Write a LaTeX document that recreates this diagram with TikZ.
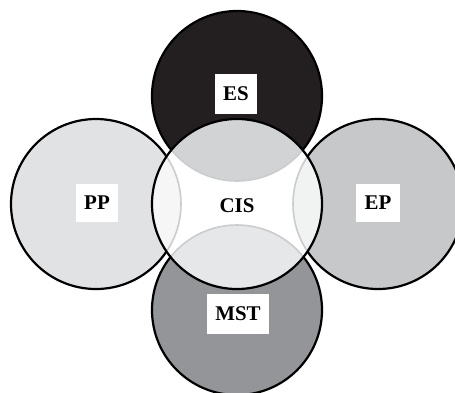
\documentclass[tikz,border=0pt]{standalone}
\usepackage{fontspec}
\setmainfont{Liberation Serif}
\definecolor{esfill}{HTML}{231F20}
\definecolor{ppfill}{HTML}{E1E2E3}
\definecolor{epfill}{HTML}{C7C8CA}
\definecolor{mstfill}{HTML}{939598}
\definecolor{esov}{HTML}{D1D3D4}
\definecolor{mstov}{HTML}{E6E7E8}
\definecolor{ppov}{HTML}{F6F6F6}
\definecolor{epov}{HTML}{F1F2F2}
\definecolor{arcgray}{HTML}{CBCCCD}
\tikzset{
  ring/.style={circle, draw=black, line width=2.2bp, minimum size=170bp, inner sep=0pt, outer sep=0pt},
  lab/.style={fill=white, font=\fontsize{21}{21}\selectfont\bfseries, inner xsep=8.5bp, inner ysep=12.5bp},
  cislab/.style={font=\fontsize{21}{21}\selectfont\bfseries}
}
\begin{document}
\begin{tikzpicture}[x=1bp,y=-1bp]
\useasboundingbox (0,0) rectangle (455,392);
% outer circles
\node[ring, fill=ppfill] (pp) at (96,204) {};
\node[ring, fill=epfill] (ep) at (378,204) {};
\node[ring, fill=esfill] (es) at (237,96) {};
\node[ring, fill=mstfill] (mst) at (237,310) {};
% central circle interior
\node[circle, fill=white, minimum size=170bp, inner sep=0pt] (cisfill) at (237,204) {};
\begin{scope}
  \clip (237,204) circle (85);
  \fill[esov] (es.center) circle (85);
  \fill[mstov] (mst.center) circle (85);
  \fill[ppov] (pp.center) circle (85);
  \fill[epov] (ep.center) circle (85);
  \draw[arcgray, line width=1.6bp] (es.center) circle (85);
  \draw[arcgray, line width=1.6bp] (mst.center) circle (85);
  \draw[arcgray, line width=1.6bp] (pp.center) circle (85);
  \draw[arcgray, line width=1.6bp] (ep.center) circle (85);
\end{scope}
\node[ring] (cis) at (237,204) {};
% labels
\node[lab] (esl) at (236,94) {ES};
\node[lab] (ppl) at (97,203) {PP};
\node[lab] (epl) at (378,203) {EP};
\node[lab] (mstl) at (238,314) {MST};
\node[cislab] (cisl) at (237,206) {CIS};
\end{tikzpicture}
\end{document}
